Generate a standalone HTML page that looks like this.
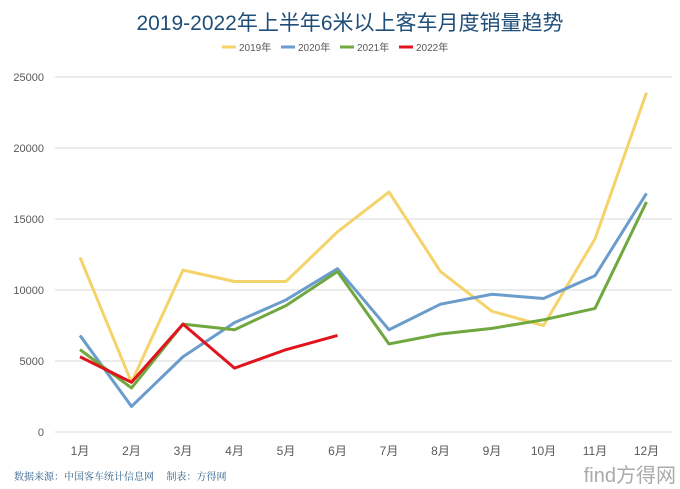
<!DOCTYPE html>
<html><head><meta charset="utf-8"><style>
body{margin:0;background:#fff;}
svg{display:block;font-family:"Liberation Sans","Noto Sans CJK SC",sans-serif;}
</style></head><body>
<svg id="c" width="680" height="489">
<text x="350" y="30" text-anchor="middle" font-size="21" fill="#1f4e79">2019-2022年上半年6米以上客车月度销量趋势</text>
<g id="legend"></g>
<g id="grid"></g><g id="series"></g>
<text x="14" y="480" font-size="10" fill="#2e5f8a" font-family="'Noto Serif CJK SC',serif">数据来源：中国客车统计信息网　 制表：方得网</text>
<text x="676" y="482" text-anchor="end" font-size="20" fill="#aaa">find方得网</text>
</svg>
<script>
const months=['1月','2月','3月','4月','5月','6月','7月','8月','9月','10月','11月','12月'];
const yTicks=[0,5000,10000,15000,20000,25000];
const seriesNames=['2019年','2020年','2021年','2022年'];
const s2019=[12300,3500,11400,10600,10600,14100,16900,11300,8500,7500,13600,23900];
const s2020=[6800,1800,5300,7700,9300,11500,7200,9000,9700,9400,11000,16800];
const s2021=[5800,3100,7600,7200,8900,11300,6200,6900,7300,7900,8700,16200];
const s2022=[5300,3500,7600,4500,5800,6800];
const colors=['#f5d36b','#6a9ccc','#70a83f','#e0141c'];
const NS='http://www.w3.org/2000/svg';
const x=i=>80+i*51.5, y=v=>432-v*(355/25000);
function mk(t,a,p){const e=document.createElementNS(NS,t);for(const k in a)e.setAttribute(k,a[k]);p.appendChild(e);return e;}
const grid=document.getElementById('grid');
yTicks.forEach(v=>{
 const l=mk('line',{x1:55,x2:672,y1:y(v),y2:y(v),stroke:'#d9d9d9'},grid);
 
 
 const t=mk('text',{x:44,y:y(v)+4,'text-anchor':'end','font-size':11,fill:'#595959'},grid);t.textContent=v;
 
 
});
months.forEach((m,i)=>{
 const t=mk('text',{x:x(i),y:455,'text-anchor':'middle','font-size':12,fill:'#595959'},grid);t.textContent=m;
 
 
});
const sg=document.getElementById('series');
[s2019,s2020,s2021,s2022].forEach((d,k)=>{
 const p=mk('polyline',{points:d.map((v,i)=>x(i)+','+y(v)).join(' '),fill:'none',stroke:colors[k],'stroke-width':3,'stroke-linejoin':'round'},sg);
 
 
});
const lg=document.getElementById('legend');
const lx=[222,281,340,399];
seriesNames.forEach((n,k)=>{
 const l=mk('line',{x1:lx[k],x2:lx[k]+14,y1:47,y2:47,stroke:colors[k],'stroke-width':3},lg);
 
 
 const t=mk('text',{x:lx[k]+17,y:51,'font-size':10,fill:'#595959'},lg);t.textContent=n;
 
 
});
</script>
</body></html>
